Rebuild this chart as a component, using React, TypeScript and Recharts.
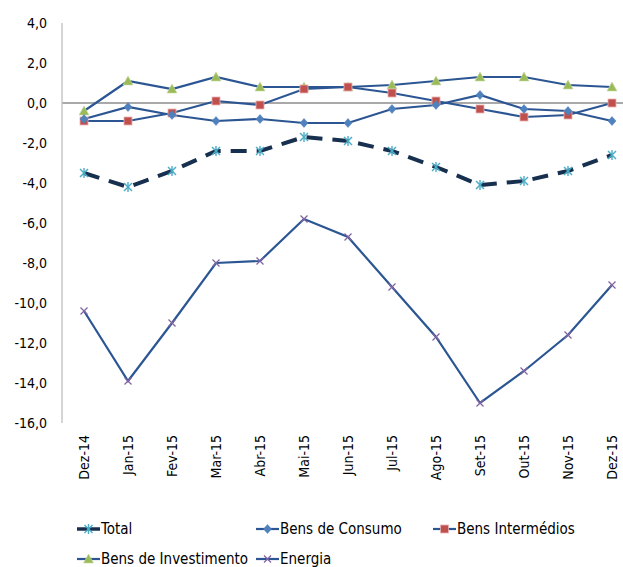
import React from 'react';
import { LineChart, Line, XAxis, YAxis, ReferenceLine, Legend } from 'recharts';

const categories = ['Dez-14', 'Jan-15', 'Fev-15', 'Mar-15', 'Abr-15', 'Mai-15', 'Jun-15', 'Jul-15', 'Ago-15', 'Set-15', 'Out-15', 'Nov-15', 'Dez-15'];
const total = [-3.5, -4.2, -3.4, -2.4, -2.4, -1.7, -1.9, -2.4, -3.2, -4.1, -3.9, -3.4, -2.6];
const bensConsumo = [-0.8, -0.2, -0.6, -0.9, -0.8, -1.0, -1.0, -0.3, -0.1, 0.4, -0.3, -0.4, -0.9];
const bensIntermedios = [-0.9, -0.9, -0.5, 0.1, -0.1, 0.7, 0.8, 0.5, 0.1, -0.3, -0.7, -0.6, 0.0];
const bensInvestimento = [-0.4, 1.1, 0.7, 1.3, 0.8, 0.8, 0.8, 0.9, 1.1, 1.3, 1.3, 0.9, 0.8];
const energia = [-10.4, -13.9, -11.0, -8.0, -7.9, -5.8, -6.7, -9.2, -11.7, -15.0, -13.4, -11.6, -9.1];
const yTicks = [4, 2, 0, -2, -4, -6, -8, -10, -12, -14, -16];

const data = categories.map((c, i) => ({
  cat: c,
  total: total[i],
  consumo: bensConsumo[i],
  intermedios: bensIntermedios[i],
  investimento: bensInvestimento[i],
  energia: energia[i],
}));

const FONT = '"DejaVu Sans", sans-serif';
const LINE = '#2C5693';

type MK = 'star' | 'diamond' | 'square' | 'triangle' | 'x';

const Marker = ({ kind, cx, cy }: { kind: MK; cx: number; cy: number }) => {
  if (cx == null || cy == null || isNaN(cx) || isNaN(cy)) return null;
  switch (kind) {
    case 'star':
      return (
        <g stroke="#4BACC6" strokeWidth={1.4} fill="none">
          <line x1={cx - 4} y1={cy - 4} x2={cx + 4} y2={cy + 4} />
          <line x1={cx - 4} y1={cy + 4} x2={cx + 4} y2={cy - 4} />
          <line x1={cx} y1={cy - 5} x2={cx} y2={cy + 5} />
        </g>
      );
    case 'diamond':
      return <path d={`M${cx},${cy - 4.5}L${cx + 4},${cy}L${cx},${cy + 4.5}L${cx - 4},${cy}Z`} fill="#4F81BD" stroke="#4F81BD" strokeWidth={0.5} />;
    case 'square':
      return <rect x={cx - 4} y={cy - 4} width={8} height={8} fill="#C0504D" stroke="#E8B4B2" strokeWidth={0.8} />;
    case 'triangle':
      return <path d={`M${cx},${cy - 5}L${cx + 5},${cy + 4}L${cx - 5},${cy + 4}Z`} fill="#9BBB59" stroke="#C9DCA8" strokeWidth={0.6} />;
    case 'x':
      return (
        <g stroke="#8064A2" strokeWidth={1.2}>
          <line x1={cx - 3.5} y1={cy - 3.5} x2={cx + 3.5} y2={cy + 3.5} />
          <line x1={cx - 3.5} y1={cy + 3.5} x2={cx + 3.5} y2={cy - 3.5} />
        </g>
      );
  }
  return null;
};

const dotFor = (kind: MK) => (props: any) => <Marker key={`${kind}-${props.index}`} kind={kind} cx={props.cx} cy={props.cy} />;

const textStyle = { fontStretch: 'condensed' as const, fontWeight: 400 };

const XTick = (props: any) => {
  const { x, y, payload } = props;
  return (
    <g transform={`translate(${x},${y + 4}) rotate(-90)`}>
      <text x={0} y={0} dy="0.36em" textAnchor="end" fill="#000" fontSize={14} fontFamily={FONT} fontWeight={400} style={textStyle}>
        {payload.value}
      </text>
    </g>
  );
};

const legendItems: { label: string; kind: MK; left: number; top: number; dashed?: boolean }[] = [
  { label: 'Total', kind: 'star', left: 77, top: 52, dashed: true },
  { label: 'Bens de Consumo', kind: 'diamond', left: 256, top: 52 },
  { label: 'Bens Intermédios', kind: 'square', left: 433, top: 52 },
  { label: 'Bens de Investimento', kind: 'triangle', left: 77, top: 82 },
  { label: 'Energia', kind: 'x', left: 256, top: 82 },
];

const LegendContent = () => (
  <div style={{ position: 'relative', width: 640, height: 90 }}>
    {legendItems.map((it) => (
      <div key={it.label} style={{ position: 'absolute', left: it.left, top: it.top - 10, height: 20, display: 'flex', alignItems: 'center', whiteSpace: 'nowrap' }}>
        <svg width={23} height={20} style={{ display: 'block' }}>
          <line x1={0} y1={10} x2={23} y2={10} stroke={it.dashed ? '#17304F' : LINE} strokeWidth={it.dashed ? 3.5 : 2.2} />
          <Marker kind={it.kind} cx={11.5} cy={10} />
        </svg>
        <span style={{ fontFamily: FONT, fontStretch: 'condensed', fontWeight: 400, fontSize: 15, lineHeight: '20px', color: '#000', marginLeft: 1 }}>{it.label}</span>
      </div>
    ))}
  </div>
);

export default function App() {
  return (
    <div style={{ position: 'absolute', left: 0, top: 0, width: 623, height: 567, overflow: 'hidden', background: '#fff' }}>
      <LineChart width={640} height={567} data={data} margin={{ top: 23, right: 6, left: 0, bottom: 0 }}>
        <XAxis
          dataKey="cat"
          scale="point"
          padding={{ left: 22, right: 22 }}
          axisLine={false}
          tickLine={false}
          interval={0}
          height={54}
          tick={<XTick />}
        />
        <YAxis
          domain={[-16, 4]}
          ticks={yTicks}
          interval={0}
          width={62}
          axisLine={{ stroke: '#BFBFBF', strokeWidth: 1.3 }}
          tickLine={false}
          tick={{ fill: '#000', fontSize: 14, fontFamily: FONT, fontWeight: 400, dx: -7, style: textStyle } as any}
          tickFormatter={(v: number) => v.toFixed(1).replace('.', ',')}
        />
        <ReferenceLine y={0} stroke="#8C8C8C" strokeWidth={1.3} />
        <Legend verticalAlign="bottom" content={<LegendContent />} wrapperStyle={{ left: 0, bottom: 0, width: 640, height: 90 }} />
        <Line type="linear" dataKey="energia" stroke={LINE} strokeWidth={2.2} dot={dotFor('x')} isAnimationActive={false} />
        <Line type="linear" dataKey="investimento" stroke={LINE} strokeWidth={2.2} dot={dotFor('triangle')} isAnimationActive={false} />
        <Line type="linear" dataKey="intermedios" stroke={LINE} strokeWidth={2.2} dot={dotFor('square')} isAnimationActive={false} />
        <Line type="linear" dataKey="consumo" stroke={LINE} strokeWidth={2.2} dot={dotFor('diamond')} isAnimationActive={false} />
        <Line type="linear" dataKey="total" stroke="#17304F" strokeWidth={4} strokeDasharray="16 10" dot={dotFor('star')} isAnimationActive={false} />
      </LineChart>
    </div>
  );
}
